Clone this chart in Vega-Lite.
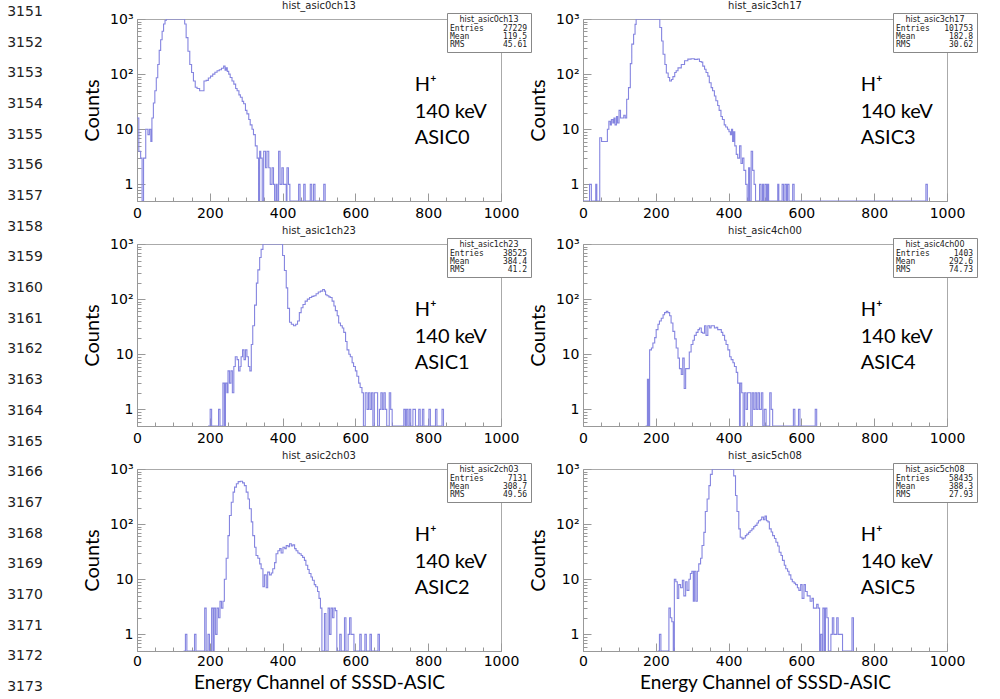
{
 "$schema": "https://vega.github.io/schema/vega-lite/v6.json",
 "padding": 0,
 "background": "white",
 "config": {
  "view": {"stroke": "#aaaaaa", "strokeWidth": 1},
  "font": "DejaVu Sans",
  "title": {"fontSize": 10, "font": "DejaVu Sans", "fontWeight": "normal", "color": "#222222", "offset": 1, "anchor": "middle", "frame": "group"},
  "axis": {"domainColor": "#999999", "tickColor": "#999999", "grid": false, "labelColor": "#000000", "labelFont": "DejaVu Sans", "labelFontSize": 14, "zindex": 1, "titleFontWeight": "normal", "titleColor": "#000000", "titleFont": "Lato"},
  "legend": {"orient": "none", "legendX": 310, "legendY": -6, "direction": "vertical", "strokeColor": "#888888", "fillColor": "white", "padding": 3, "titleFontSize": 8, "titleFont": "DejaVu Sans", "titleFontWeight": "normal", "titleColor": "#222222", "titleAnchor": "middle", "titlePadding": 1, "labelFontSize": 8, "labelFont": "DejaVu Sans Mono", "labelColor": "#222222", "symbolSize": 0, "symbolOpacity": 0, "symbolStrokeWidth": 0, "labelOffset": -8, "rowPadding": 0}
 },
 "datasets": {
  "lines": [{"line":3151},{"line":3152},{"line":3153},{"line":3154},{"line":3155},{"line":3156},{"line":3157},{"line":3158},{"line":3159},{"line":3160},{"line":3161},{"line":3162},{"line":3163},{"line":3164},{"line":3165},{"line":3166},{"line":3167},{"line":3168},{"line":3169},{"line":3170},{"line":3171},{"line":3172},{"line":3173}],
  "a0": [{"x":0,"n":16},{"x":5,"n":4},{"x":10,"n":3},{"x":14,"n":0},{"x":18,"n":3},{"x":24,"n":10},{"x":30,"n":8},{"x":34,"n":10},{"x":38,"n":6},{"x":41,"n":16},{"x":45,"n":30},{"x":49,"n":50},{"x":53,"n":86},{"x":57,"n":150},{"x":61,"n":270},{"x":65,"n":420},{"x":69,"n":600},{"x":73,"n":810},{"x":77,"n":950},{"x":81,"n":1500},{"x":131,"n":810},{"x":135,"n":460},{"x":140,"n":260},{"x":145,"n":150},{"x":150,"n":107},{"x":155,"n":75},{"x":160,"n":58},{"x":165,"n":55},{"x":172,"n":50},{"x":178,"n":50},{"x":184,"n":75},{"x":190,"n":77},{"x":196,"n":85},{"x":202,"n":92},{"x":208,"n":100},{"x":214,"n":108},{"x":220,"n":115},{"x":226,"n":120},{"x":232,"n":128},{"x":238,"n":140},{"x":242,"n":118},{"x":245,"n":130},{"x":248,"n":112},{"x":252,"n":100},{"x":256,"n":87},{"x":261,"n":75},{"x":266,"n":66},{"x":271,"n":55},{"x":275,"n":50},{"x":280,"n":42},{"x":284,"n":38},{"x":289,"n":32},{"x":293,"n":29},{"x":298,"n":22},{"x":302,"n":19},{"x":307,"n":15},{"x":311,"n":12},{"x":316,"n":10},{"x":320,"n":8},{"x":325,"n":5},{"x":330,"n":3},{"x":334,"n":0},{"x":337,"n":4},{"x":340,"n":3},{"x":344,"n":0},{"x":348,"n":4},{"x":353,"n":2},{"x":357,"n":4},{"x":362,"n":2},{"x":366,"n":1},{"x":371,"n":2},{"x":375,"n":1},{"x":378,"n":0},{"x":382,"n":1},{"x":385,"n":0},{"x":389,"n":4},{"x":393,"n":1},{"x":398,"n":2},{"x":402,"n":1},{"x":407,"n":1},{"x":410,"n":0},{"x":412,"n":2},{"x":416,"n":1},{"x":420,"n":0},{"x":444,"n":1},{"x":448,"n":0},{"x":458,"n":1},{"x":462,"n":0},{"x":476,"n":1},{"x":480,"n":0},{"x":485,"n":1},{"x":489,"n":0},{"x":513,"n":1},{"x":517,"n":0}],
  "a3": [{"x":0,"n":0},{"x":18,"n":1},{"x":23,"n":0},{"x":35,"n":1},{"x":38,"n":0},{"x":46,"n":7},{"x":51,"n":6},{"x":64,"n":6},{"x":67,"n":10},{"x":71,"n":14},{"x":75,"n":12},{"x":78,"n":15},{"x":82,"n":13},{"x":85,"n":16},{"x":88,"n":12},{"x":92,"n":17},{"x":95,"n":13},{"x":99,"n":22},{"x":103,"n":16},{"x":108,"n":16},{"x":112,"n":18},{"x":116,"n":16},{"x":120,"n":35},{"x":125,"n":57},{"x":130,"n":155},{"x":134,"n":350},{"x":139,"n":530},{"x":143,"n":800},{"x":146,"n":1800},{"x":211,"n":700},{"x":216,"n":400},{"x":220,"n":230},{"x":225,"n":150},{"x":229,"n":105},{"x":234,"n":87},{"x":238,"n":75},{"x":243,"n":80},{"x":247,"n":90},{"x":252,"n":107},{"x":256,"n":115},{"x":261,"n":130},{"x":270,"n":150},{"x":279,"n":175},{"x":288,"n":187},{"x":297,"n":190},{"x":306,"n":185},{"x":315,"n":188},{"x":320,"n":170},{"x":325,"n":165},{"x":329,"n":140},{"x":334,"n":123},{"x":338,"n":107},{"x":343,"n":92},{"x":347,"n":70},{"x":352,"n":57},{"x":356,"n":50},{"x":361,"n":40},{"x":365,"n":33},{"x":370,"n":27},{"x":374,"n":22},{"x":379,"n":17},{"x":383,"n":15},{"x":388,"n":12},{"x":392,"n":11},{"x":397,"n":10},{"x":401,"n":9},{"x":405,"n":8},{"x":408,"n":10},{"x":411,"n":6},{"x":414,"n":9},{"x":417,"n":5},{"x":421,"n":3.5},{"x":425,"n":3},{"x":430,"n":5},{"x":434,"n":2.4},{"x":438,"n":3},{"x":442,"n":1.8},{"x":447,"n":1},{"x":451,"n":0},{"x":455,"n":2},{"x":458,"n":0},{"x":462,"n":4},{"x":466,"n":1.8},{"x":470,"n":1},{"x":474,"n":0},{"x":485,"n":1},{"x":489,"n":0},{"x":493,"n":1},{"x":496,"n":0},{"x":500,"n":1},{"x":504,"n":0},{"x":507,"n":1},{"x":510,"n":0},{"x":535,"n":1},{"x":538,"n":0},{"x":547,"n":1},{"x":551,"n":0},{"x":555,"n":1},{"x":559,"n":0},{"x":562,"n":1},{"x":566,"n":0},{"x":576,"n":1},{"x":580,"n":0},{"x":942,"n":1},{"x":946,"n":0}],
  "a1": [{"x":195,"n":0},{"x":201,"n":1},{"x":205,"n":0},{"x":224,"n":1},{"x":228,"n":0},{"x":236,"n":3},{"x":240,"n":0},{"x":243,"n":3},{"x":247,"n":2},{"x":250,"n":5},{"x":254,"n":3},{"x":258,"n":5},{"x":262,"n":2},{"x":266,"n":6},{"x":270,"n":9},{"x":275,"n":8},{"x":279,"n":5},{"x":283,"n":6},{"x":286,"n":9},{"x":290,"n":12},{"x":294,"n":8},{"x":298,"n":12},{"x":302,"n":9},{"x":306,"n":6},{"x":310,"n":5},{"x":314,"n":15},{"x":318,"n":33},{"x":323,"n":78},{"x":328,"n":195},{"x":332,"n":340},{"x":337,"n":570},{"x":341,"n":800},{"x":346,"n":2000},{"x":400,"n":620},{"x":405,"n":330},{"x":410,"n":160},{"x":414,"n":68},{"x":419,"n":38},{"x":424,"n":35},{"x":430,"n":33},{"x":436,"n":35},{"x":441,"n":40},{"x":446,"n":57},{"x":451,"n":70},{"x":456,"n":80},{"x":462,"n":92},{"x":468,"n":100},{"x":474,"n":107},{"x":480,"n":112},{"x":486,"n":115},{"x":492,"n":125},{"x":498,"n":135},{"x":504,"n":140},{"x":510,"n":150},{"x":515,"n":140},{"x":518,"n":120},{"x":522,"n":115},{"x":527,"n":110},{"x":531,"n":107},{"x":536,"n":92},{"x":541,"n":75},{"x":545,"n":62},{"x":550,"n":50},{"x":554,"n":37},{"x":559,"n":33},{"x":564,"n":30},{"x":568,"n":25},{"x":573,"n":17},{"x":577,"n":12},{"x":582,"n":10},{"x":586,"n":9},{"x":591,"n":7},{"x":595,"n":6},{"x":600,"n":5},{"x":604,"n":4},{"x":609,"n":3},{"x":613,"n":2.5},{"x":618,"n":2},{"x":622,"n":0},{"x":627,"n":2},{"x":632,"n":1},{"x":636,"n":2},{"x":640,"n":1},{"x":644,"n":2},{"x":648,"n":0},{"x":652,"n":2},{"x":657,"n":2},{"x":661,"n":0},{"x":666,"n":1},{"x":670,"n":2},{"x":674,"n":1},{"x":678,"n":2},{"x":682,"n":1},{"x":686,"n":0},{"x":693,"n":2},{"x":697,"n":1},{"x":701,"n":0},{"x":733,"n":1},{"x":737,"n":0},{"x":740,"n":1},{"x":744,"n":0},{"x":748,"n":1},{"x":752,"n":0},{"x":758,"n":1},{"x":765,"n":0},{"x":774,"n":1},{"x":778,"n":0},{"x":784,"n":1},{"x":788,"n":0},{"x":802,"n":1},{"x":806,"n":0},{"x":820,"n":1},{"x":824,"n":0},{"x":838,"n":1},{"x":842,"n":0}],
  "a4": [{"x":172,"n":0},{"x":177,"n":3.5},{"x":180,"n":0},{"x":183,"n":12},{"x":188,"n":13},{"x":192,"n":16},{"x":197,"n":20},{"x":201,"n":28},{"x":206,"n":35},{"x":210,"n":40},{"x":215,"n":45},{"x":220,"n":52},{"x":224,"n":57},{"x":229,"n":60},{"x":233,"n":57},{"x":238,"n":50},{"x":242,"n":37},{"x":247,"n":26},{"x":252,"n":19},{"x":256,"n":13},{"x":261,"n":8.5},{"x":265,"n":5.5},{"x":270,"n":4.3},{"x":274,"n":8.5},{"x":278,"n":2.4},{"x":282,"n":5.5},{"x":288,"n":5.5},{"x":292,"n":11},{"x":297,"n":15},{"x":302,"n":18},{"x":306,"n":22},{"x":311,"n":25},{"x":316,"n":28},{"x":320,"n":30},{"x":325,"n":25},{"x":329,"n":24},{"x":334,"n":33},{"x":338,"n":22},{"x":343,"n":33},{"x":348,"n":30},{"x":352,"n":33},{"x":357,"n":33},{"x":361,"n":30},{"x":366,"n":31},{"x":370,"n":28},{"x":375,"n":28},{"x":380,"n":25},{"x":384,"n":22},{"x":389,"n":18},{"x":393,"n":15},{"x":398,"n":12},{"x":403,"n":9},{"x":407,"n":8},{"x":412,"n":7},{"x":416,"n":6},{"x":421,"n":4.7},{"x":425,"n":3},{"x":430,"n":0},{"x":432,"n":3},{"x":436,"n":2},{"x":440,"n":0},{"x":444,"n":2},{"x":448,"n":1},{"x":452,"n":2},{"x":457,"n":2},{"x":461,"n":0},{"x":465,"n":2},{"x":469,"n":1},{"x":473,"n":2},{"x":477,"n":1},{"x":481,"n":2},{"x":485,"n":1},{"x":490,"n":2},{"x":494,"n":0},{"x":498,"n":1},{"x":503,"n":0},{"x":513,"n":2},{"x":517,"n":1},{"x":521,"n":0},{"x":578,"n":1},{"x":582,"n":0},{"x":592,"n":1},{"x":596,"n":0},{"x":638,"n":1},{"x":642,"n":0}],
  "a2": [{"x":128,"n":0},{"x":133,"n":1},{"x":137,"n":0},{"x":158,"n":1},{"x":162,"n":0},{"x":186,"n":3},{"x":190,"n":0},{"x":195,"n":1},{"x":199,"n":0},{"x":205,"n":3},{"x":209,"n":0},{"x":212,"n":3},{"x":216,"n":1},{"x":220,"n":3},{"x":224,"n":2},{"x":228,"n":4},{"x":232,"n":3},{"x":236,"n":4},{"x":240,"n":10},{"x":245,"n":24},{"x":250,"n":62},{"x":254,"n":143},{"x":259,"n":250},{"x":264,"n":380},{"x":268,"n":470},{"x":273,"n":540},{"x":278,"n":590},{"x":284,"n":600},{"x":290,"n":560},{"x":295,"n":500},{"x":300,"n":380},{"x":305,"n":285},{"x":309,"n":190},{"x":314,"n":110},{"x":318,"n":62},{"x":323,"n":38},{"x":327,"n":27},{"x":332,"n":24},{"x":337,"n":19},{"x":341,"n":15.5},{"x":346,"n":7.3},{"x":350,"n":12},{"x":355,"n":7},{"x":359,"n":13.5},{"x":364,"n":12},{"x":369,"n":13},{"x":373,"n":15.5},{"x":378,"n":20},{"x":382,"n":29},{"x":387,"n":33},{"x":392,"n":36},{"x":396,"n":30},{"x":401,"n":38},{"x":406,"n":36},{"x":410,"n":41},{"x":415,"n":39},{"x":419,"n":44},{"x":424,"n":40},{"x":428,"n":42},{"x":433,"n":36},{"x":437,"n":33},{"x":442,"n":30},{"x":446,"n":29},{"x":451,"n":27},{"x":455,"n":25},{"x":460,"n":22},{"x":464,"n":18},{"x":469,"n":15},{"x":473,"n":12.7},{"x":478,"n":11},{"x":482,"n":9.6},{"x":487,"n":8},{"x":491,"n":7.3},{"x":496,"n":6},{"x":500,"n":4.5},{"x":504,"n":3},{"x":508,"n":0},{"x":515,"n":2.4},{"x":519,"n":0},{"x":525,"n":3},{"x":529,"n":1},{"x":533,"n":3},{"x":537,"n":2},{"x":541,"n":3},{"x":545,"n":2.7},{"x":549,"n":0},{"x":557,"n":1},{"x":561,"n":0},{"x":570,"n":2},{"x":574,"n":0},{"x":580,"n":1},{"x":584,"n":2},{"x":588,"n":1},{"x":592,"n":1},{"x":596,"n":0},{"x":612,"n":1},{"x":616,"n":0},{"x":626,"n":1},{"x":630,"n":0},{"x":640,"n":1},{"x":644,"n":0},{"x":662,"n":1},{"x":666,"n":0}],
  "a5": [{"x":205,"n":0},{"x":210,"n":1},{"x":214,"n":0},{"x":236,"n":3},{"x":240,"n":2},{"x":244,"n":1.7},{"x":248,"n":0},{"x":251,"n":10},{"x":255,"n":9},{"x":259,"n":4.5},{"x":263,"n":8},{"x":268,"n":7},{"x":273,"n":9.6},{"x":277,"n":5},{"x":282,"n":9},{"x":286,"n":6.3},{"x":291,"n":10},{"x":295,"n":12.7},{"x":299,"n":14},{"x":303,"n":4},{"x":306,"n":14},{"x":310,"n":4},{"x":314,"n":14},{"x":318,"n":19},{"x":323,"n":24},{"x":327,"n":41},{"x":332,"n":71},{"x":336,"n":170},{"x":341,"n":285},{"x":346,"n":500},{"x":350,"n":800},{"x":355,"n":2500},{"x":414,"n":750},{"x":419,"n":330},{"x":423,"n":170},{"x":428,"n":82},{"x":432,"n":58},{"x":437,"n":54},{"x":441,"n":56},{"x":446,"n":62},{"x":450,"n":66},{"x":455,"n":71},{"x":459,"n":76},{"x":464,"n":82},{"x":469,"n":90},{"x":473,"n":95},{"x":478,"n":105},{"x":482,"n":115},{"x":487,"n":120},{"x":491,"n":134},{"x":496,"n":120},{"x":500,"n":140},{"x":504,"n":115},{"x":508,"n":110},{"x":512,"n":82},{"x":517,"n":72},{"x":521,"n":62},{"x":526,"n":55},{"x":530,"n":47},{"x":535,"n":40},{"x":539,"n":31},{"x":544,"n":27},{"x":548,"n":22},{"x":553,"n":18},{"x":557,"n":15.5},{"x":562,"n":14},{"x":566,"n":12},{"x":571,"n":10},{"x":575,"n":9},{"x":580,"n":8.5},{"x":584,"n":8},{"x":589,"n":7},{"x":593,"n":6.3},{"x":598,"n":8},{"x":602,"n":4.5},{"x":607,"n":8},{"x":611,"n":6},{"x":616,"n":5},{"x":620,"n":5},{"x":624,"n":4},{"x":629,"n":4.5},{"x":633,"n":3},{"x":638,"n":3},{"x":642,"n":3.5},{"x":646,"n":3},{"x":650,"n":0},{"x":653,"n":1},{"x":657,"n":0},{"x":659,"n":3},{"x":663,"n":0},{"x":666,"n":3},{"x":670,"n":2},{"x":674,"n":0},{"x":681,"n":1},{"x":685,"n":2},{"x":689,"n":1},{"x":693,"n":1},{"x":697,"n":2},{"x":701,"n":1},{"x":705,"n":1},{"x":709,"n":1},{"x":713,"n":0},{"x":739,"n":2},{"x":743,"n":0}]
 },
 "spacing": 32,
 "resolve": {"scale": {"color": "independent"}, "legend": {"color": "independent"}},
 "hconcat": [
  {
   "width": 50, "height": 680,
   "view": {"stroke": null},
   "data": {"name": "lines"},
   "mark": {"type": "text", "font": "DejaVu Sans", "fontSize": 14, "color": "#222222", "align": "center", "baseline": "middle"},
   "encoding": {
    "y": {"field": "line", "type": "quantitative", "scale": {"domain": [3151.228, 3173.392], "reverse": true, "nice": false, "zero": false}, "axis": null},
    "text": {"field": "line", "type": "nominal"}
   }
  },
  {
   "spacing": 4,
   "resolve": {"scale": {"color": "independent"}, "legend": {"color": "independent"}},
   "vconcat": [
    {
     "spacing": -4,
     "resolve": {"scale": {"color": "independent"}, "legend": {"color": "independent"}},
     "hconcat": [
      {
       "width": 364, "height": 182,
       "title": {"text": "hist_asic0ch13"},
       "resolve": {"axis": {"x": "independent", "y": "independent"}},
       "layer": [
        {"data": {"name": "a0"},
         "mark": {"type": "line", "interpolate": "step-after", "color": "#8585e0", "strokeWidth": 1.1, "clip": true, "invalid": null},
         "encoding": {
          "x": {"field": "x", "type": "quantitative", "scale": {"domain": [0, 1000], "nice": false, "zero": false}, "axis": {"values": [0,200,400,600,800,1000], "format": "d", "title": null, "labelFlush": false, "labelOverlap": false, "tickSize": -8, "labelPadding": 13}},
          "y": {"field": "n", "type": "quantitative", "scale": {"type": "log", "domain": [0.5, 1000], "clamp": true, "nice": false}, "axis": {"values": [1,10,100,1000], "labelExpr": "datum.value==1000?'10³':datum.value==100?'10²':datum.value==10?'10':'1'", "title": "Counts", "titleFontSize": 20, "titlePadding": 7, "tickSize": -8, "labelPadding": 12}}
         }},
        {"data": {"values": [{"asic": "ASIC0"}]},
         "mark": {"type": "text", "text": ["H⁺", "140 keV", "ASIC0"], "align": "left", "baseline": "middle", "font": "Lato", "fontSize": 20, "lineHeight": 26.5, "color": "#000000"},
         "encoding": {
          "x": {"datum": 763, "type": "quantitative", "axis": {"orient": "bottom", "values": [50,100,150,250,300,350,450,500,550,650,700,750,850,900,950], "labels": false, "domain": false, "title": null, "tickSize": -4}},
          "y": {"datum": 63, "type": "quantitative", "axis": {"orient": "left", "values": [0.6,0.7,0.8,0.9,2,3,4,5,6,7,8,9,20,30,40,50,60,70,80,90,200,300,400,500,600,700,800,900], "labels": false, "domain": false, "title": null, "tickSize": -4}}
         }},
        {"data": {"values": [{"s": "Entries\u00a0\u00a0\u00a0\u00a027229"}, {"s": "Mean\u00a0\u00a0\u00a0\u00a0\u00a0\u00a0\u00a0119.5"}, {"s": "RMS\u00a0\u00a0\u00a0\u00a0\u00a0\u00a0\u00a0\u00a045.61"}]},
         "mark": {"type": "point", "opacity": 0},
         "encoding": {"color": {"field": "s", "type": "nominal", "scale": {"range": ["#000000"]}, "legend": {"title": "hist_asic0ch13"}}}}
       ]
      },
      {
       "width": 364, "height": 182,
       "title": {"text": "hist_asic3ch17"},
       "resolve": {"axis": {"x": "independent", "y": "independent"}},
       "layer": [
        {"data": {"name": "a3"},
         "mark": {"type": "line", "interpolate": "step-after", "color": "#8585e0", "strokeWidth": 1.1, "clip": true, "invalid": null},
         "encoding": {
          "x": {"field": "x", "type": "quantitative", "scale": {"domain": [0, 1000], "nice": false, "zero": false}, "axis": {"values": [0,200,400,600,800,1000], "format": "d", "title": null, "labelFlush": false, "labelOverlap": false, "tickSize": -8, "labelPadding": 13}},
          "y": {"field": "n", "type": "quantitative", "scale": {"type": "log", "domain": [0.5, 1000], "clamp": true, "nice": false}, "axis": {"values": [1,10,100,1000], "labelExpr": "datum.value==1000?'10³':datum.value==100?'10²':datum.value==10?'10':'1'", "title": "Counts", "titleFontSize": 20, "titlePadding": 7, "tickSize": -8, "labelPadding": 12}}
         }},
        {"data": {"values": [{"asic": "ASIC3"}]},
         "mark": {"type": "text", "text": ["H⁺", "140 keV", "ASIC3"], "align": "left", "baseline": "middle", "font": "Lato", "fontSize": 20, "lineHeight": 26.5, "color": "#000000"},
         "encoding": {
          "x": {"datum": 763, "type": "quantitative", "axis": {"orient": "bottom", "values": [50,100,150,250,300,350,450,500,550,650,700,750,850,900,950], "labels": false, "domain": false, "title": null, "tickSize": -4}},
          "y": {"datum": 63, "type": "quantitative", "axis": {"orient": "left", "values": [0.6,0.7,0.8,0.9,2,3,4,5,6,7,8,9,20,30,40,50,60,70,80,90,200,300,400,500,600,700,800,900], "labels": false, "domain": false, "title": null, "tickSize": -4}}
         }},
        {"data": {"values": [{"s": "Entries\u00a0\u00a0\u00a0101753"}, {"s": "Mean\u00a0\u00a0\u00a0\u00a0\u00a0\u00a0\u00a0182.8"}, {"s": "RMS\u00a0\u00a0\u00a0\u00a0\u00a0\u00a0\u00a0\u00a030.62"}]},
         "mark": {"type": "point", "opacity": 0},
         "encoding": {"color": {"field": "s", "type": "nominal", "scale": {"range": ["#000000"]}, "legend": {"title": "hist_asic3ch17"}}}}
       ]
      }
     ]
    },
    {
     "spacing": -4,
     "resolve": {"scale": {"color": "independent"}, "legend": {"color": "independent"}},
     "hconcat": [
      {
       "width": 364, "height": 182,
       "title": {"text": "hist_asic1ch23"},
       "resolve": {"axis": {"x": "independent", "y": "independent"}},
       "layer": [
        {"data": {"name": "a1"},
         "mark": {"type": "line", "interpolate": "step-after", "color": "#8585e0", "strokeWidth": 1.1, "clip": true, "invalid": null},
         "encoding": {
          "x": {"field": "x", "type": "quantitative", "scale": {"domain": [0, 1000], "nice": false, "zero": false}, "axis": {"values": [0,200,400,600,800,1000], "format": "d", "title": null, "labelFlush": false, "labelOverlap": false, "tickSize": -8, "labelPadding": 13}},
          "y": {"field": "n", "type": "quantitative", "scale": {"type": "log", "domain": [0.5, 1000], "clamp": true, "nice": false}, "axis": {"values": [1,10,100,1000], "labelExpr": "datum.value==1000?'10³':datum.value==100?'10²':datum.value==10?'10':'1'", "title": "Counts", "titleFontSize": 20, "titlePadding": 7, "tickSize": -8, "labelPadding": 12}}
         }},
        {"data": {"values": [{"asic": "ASIC1"}]},
         "mark": {"type": "text", "text": ["H⁺", "140 keV", "ASIC1"], "align": "left", "baseline": "middle", "font": "Lato", "fontSize": 20, "lineHeight": 26.5, "color": "#000000"},
         "encoding": {
          "x": {"datum": 763, "type": "quantitative", "axis": {"orient": "bottom", "values": [50,100,150,250,300,350,450,500,550,650,700,750,850,900,950], "labels": false, "domain": false, "title": null, "tickSize": -4}},
          "y": {"datum": 63, "type": "quantitative", "axis": {"orient": "left", "values": [0.6,0.7,0.8,0.9,2,3,4,5,6,7,8,9,20,30,40,50,60,70,80,90,200,300,400,500,600,700,800,900], "labels": false, "domain": false, "title": null, "tickSize": -4}}
         }},
        {"data": {"values": [{"s": "Entries\u00a0\u00a0\u00a0\u00a038525"}, {"s": "Mean\u00a0\u00a0\u00a0\u00a0\u00a0\u00a0\u00a0384.4"}, {"s": "RMS\u00a0\u00a0\u00a0\u00a0\u00a0\u00a0\u00a0\u00a0\u00a041.2"}]},
         "mark": {"type": "point", "opacity": 0},
         "encoding": {"color": {"field": "s", "type": "nominal", "scale": {"range": ["#000000"]}, "legend": {"title": "hist_asic1ch23"}}}}
       ]
      },
      {
       "width": 364, "height": 182,
       "title": {"text": "hist_asic4ch00"},
       "resolve": {"axis": {"x": "independent", "y": "independent"}},
       "layer": [
        {"data": {"name": "a4"},
         "mark": {"type": "line", "interpolate": "step-after", "color": "#8585e0", "strokeWidth": 1.1, "clip": true, "invalid": null},
         "encoding": {
          "x": {"field": "x", "type": "quantitative", "scale": {"domain": [0, 1000], "nice": false, "zero": false}, "axis": {"values": [0,200,400,600,800,1000], "format": "d", "title": null, "labelFlush": false, "labelOverlap": false, "tickSize": -8, "labelPadding": 13}},
          "y": {"field": "n", "type": "quantitative", "scale": {"type": "log", "domain": [0.5, 1000], "clamp": true, "nice": false}, "axis": {"values": [1,10,100,1000], "labelExpr": "datum.value==1000?'10³':datum.value==100?'10²':datum.value==10?'10':'1'", "title": "Counts", "titleFontSize": 20, "titlePadding": 7, "tickSize": -8, "labelPadding": 12}}
         }},
        {"data": {"values": [{"asic": "ASIC4"}]},
         "mark": {"type": "text", "text": ["H⁺", "140 keV", "ASIC4"], "align": "left", "baseline": "middle", "font": "Lato", "fontSize": 20, "lineHeight": 26.5, "color": "#000000"},
         "encoding": {
          "x": {"datum": 763, "type": "quantitative", "axis": {"orient": "bottom", "values": [50,100,150,250,300,350,450,500,550,650,700,750,850,900,950], "labels": false, "domain": false, "title": null, "tickSize": -4}},
          "y": {"datum": 63, "type": "quantitative", "axis": {"orient": "left", "values": [0.6,0.7,0.8,0.9,2,3,4,5,6,7,8,9,20,30,40,50,60,70,80,90,200,300,400,500,600,700,800,900], "labels": false, "domain": false, "title": null, "tickSize": -4}}
         }},
        {"data": {"values": [{"s": "Entries\u00a0\u00a0\u00a0\u00a0\u00a01403"}, {"s": "Mean\u00a0\u00a0\u00a0\u00a0\u00a0\u00a0\u00a0292.6"}, {"s": "RMS\u00a0\u00a0\u00a0\u00a0\u00a0\u00a0\u00a0\u00a074.73"}]},
         "mark": {"type": "point", "opacity": 0},
         "encoding": {"color": {"field": "s", "type": "nominal", "scale": {"range": ["#000000"]}, "legend": {"title": "hist_asic4ch00"}}}}
       ]
      }
     ]
    },
    {
     "spacing": -4,
     "resolve": {"scale": {"color": "independent"}, "legend": {"color": "independent"}},
     "hconcat": [
      {
       "width": 364, "height": 182,
       "title": {"text": "hist_asic2ch03"},
       "resolve": {"axis": {"x": "independent", "y": "independent"}},
       "layer": [
        {"data": {"name": "a2"},
         "mark": {"type": "line", "interpolate": "step-after", "color": "#8585e0", "strokeWidth": 1.1, "clip": true, "invalid": null},
         "encoding": {
          "x": {"field": "x", "type": "quantitative", "scale": {"domain": [0, 1000], "nice": false, "zero": false}, "axis": {"values": [0,200,400,600,800,1000], "format": "d", "title": "Energy Channel of SSSD-ASIC", "titleFontSize": 19, "titlePadding": 5, "labelFlush": false, "labelOverlap": false, "tickSize": -8, "labelPadding": 11}},
          "y": {"field": "n", "type": "quantitative", "scale": {"type": "log", "domain": [0.5, 1000], "clamp": true, "nice": false}, "axis": {"values": [1,10,100,1000], "labelExpr": "datum.value==1000?'10³':datum.value==100?'10²':datum.value==10?'10':'1'", "title": "Counts", "titleFontSize": 20, "titlePadding": 7, "tickSize": -8, "labelPadding": 12}}
         }},
        {"data": {"values": [{"asic": "ASIC2"}]},
         "mark": {"type": "text", "text": ["H⁺", "140 keV", "ASIC2"], "align": "left", "baseline": "middle", "font": "Lato", "fontSize": 20, "lineHeight": 26.5, "color": "#000000"},
         "encoding": {
          "x": {"datum": 763, "type": "quantitative", "axis": {"orient": "bottom", "values": [50,100,150,250,300,350,450,500,550,650,700,750,850,900,950], "labels": false, "domain": false, "title": null, "tickSize": -4}},
          "y": {"datum": 63, "type": "quantitative", "axis": {"orient": "left", "values": [0.6,0.7,0.8,0.9,2,3,4,5,6,7,8,9,20,30,40,50,60,70,80,90,200,300,400,500,600,700,800,900], "labels": false, "domain": false, "title": null, "tickSize": -4}}
         }},
        {"data": {"values": [{"s": "Entries\u00a0\u00a0\u00a0\u00a0\u00a07131"}, {"s": "Mean\u00a0\u00a0\u00a0\u00a0\u00a0\u00a0\u00a0308.7"}, {"s": "RMS\u00a0\u00a0\u00a0\u00a0\u00a0\u00a0\u00a0\u00a049.56"}]},
         "mark": {"type": "point", "opacity": 0},
         "encoding": {"color": {"field": "s", "type": "nominal", "scale": {"range": ["#000000"]}, "legend": {"title": "hist_asic2ch03"}}}}
       ]
      },
      {
       "width": 364, "height": 182,
       "title": {"text": "hist_asic5ch08"},
       "resolve": {"axis": {"x": "independent", "y": "independent"}},
       "layer": [
        {"data": {"name": "a5"},
         "mark": {"type": "line", "interpolate": "step-after", "color": "#8585e0", "strokeWidth": 1.1, "clip": true, "invalid": null},
         "encoding": {
          "x": {"field": "x", "type": "quantitative", "scale": {"domain": [0, 1000], "nice": false, "zero": false}, "axis": {"values": [0,200,400,600,800,1000], "format": "d", "title": "Energy Channel of SSSD-ASIC", "titleFontSize": 19, "titlePadding": 5, "labelFlush": false, "labelOverlap": false, "tickSize": -8, "labelPadding": 11}},
          "y": {"field": "n", "type": "quantitative", "scale": {"type": "log", "domain": [0.5, 1000], "clamp": true, "nice": false}, "axis": {"values": [1,10,100,1000], "labelExpr": "datum.value==1000?'10³':datum.value==100?'10²':datum.value==10?'10':'1'", "title": "Counts", "titleFontSize": 20, "titlePadding": 7, "tickSize": -8, "labelPadding": 12}}
         }},
        {"data": {"values": [{"asic": "ASIC5"}]},
         "mark": {"type": "text", "text": ["H⁺", "140 keV", "ASIC5"], "align": "left", "baseline": "middle", "font": "Lato", "fontSize": 20, "lineHeight": 26.5, "color": "#000000"},
         "encoding": {
          "x": {"datum": 763, "type": "quantitative", "axis": {"orient": "bottom", "values": [50,100,150,250,300,350,450,500,550,650,700,750,850,900,950], "labels": false, "domain": false, "title": null, "tickSize": -4}},
          "y": {"datum": 63, "type": "quantitative", "axis": {"orient": "left", "values": [0.6,0.7,0.8,0.9,2,3,4,5,6,7,8,9,20,30,40,50,60,70,80,90,200,300,400,500,600,700,800,900], "labels": false, "domain": false, "title": null, "tickSize": -4}}
         }},
        {"data": {"values": [{"s": "Entries\u00a0\u00a0\u00a0\u00a058435"}, {"s": "Mean\u00a0\u00a0\u00a0\u00a0\u00a0\u00a0\u00a0388.3"}, {"s": "RMS\u00a0\u00a0\u00a0\u00a0\u00a0\u00a0\u00a0\u00a027.93"}]},
         "mark": {"type": "point", "opacity": 0},
         "encoding": {"color": {"field": "s", "type": "nominal", "scale": {"range": ["#000000"]}, "legend": {"title": "hist_asic5ch08"}}}}
       ]
      }
     ]
    }
   ]
  }
 ]
}
